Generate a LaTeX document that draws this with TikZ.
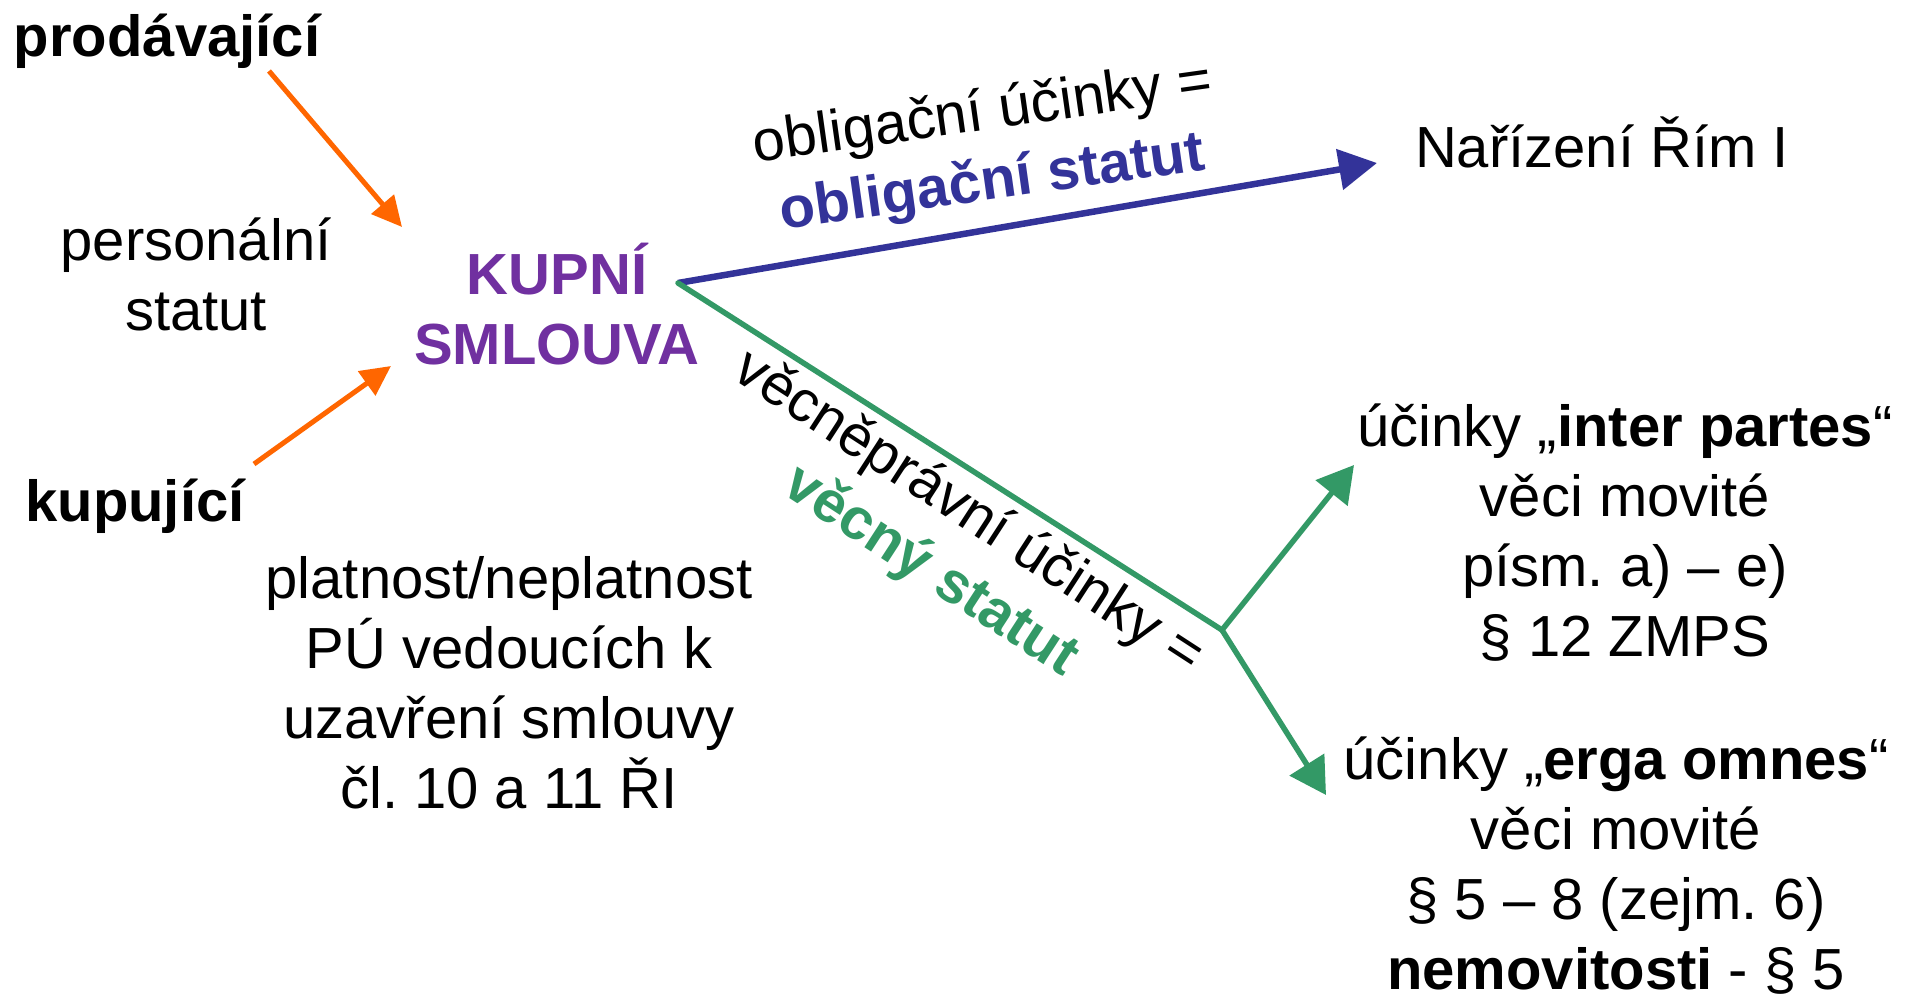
\documentclass[tikz,border=0pt]{standalone}
\usepackage{fontspec}
\setmainfont{Liberation Sans}
\usetikzlibrary{arrows.meta}
\definecolor{orng}{HTML}{FF6600}
\definecolor{purp}{HTML}{7030A0}
\definecolor{blu}{HTML}{333399}
\definecolor{grn}{HTML}{339966}
\frenchspacing
\begin{document}
\begin{tikzpicture}[x=1pt,y=-1pt,
  rt/.style={inner sep=0pt, align=center, anchor=base, font=\fontsize{58}{70}\selectfont},
  bt/.style={rt, font=\fontsize{58}{70}\selectfont\bfseries},
  orar/.style={draw=orng, line width=5pt, -{Triangle[length=30pt,width=29pt]}, orng},
  blar/.style={draw=blu, line width=6.5pt, -{Triangle[length=38pt,width=40pt]}, blu},
  grln/.style={draw=grn, line width=5.5pt, line cap=round},
  grar/.style={draw=grn, line width=5.5pt, -{Triangle[length=36pt,width=40pt]}, grn}]
\useasboundingbox (0,0) rectangle (1916,1001);
\fill[white] (0,0) rectangle (1916,1001);

\node[bt] (prod) at (167,56) {prodávající};
\node[rt] (pers) at (196,330) {personální\\statut};
\node[bt, text=purp] (kupni) at (557,364) {KUPNÍ\\SMLOUVA};
\node[bt] (kup) at (135,521) {kupující};
\node[rt] (nar) at (1602,167) {Nařízení Řím I};
\node[rt] (inter) at (1625,656) {účinky „\textbf{inter partes}“\\věci movité\\písm. a) – e)\\§ 12 ZMPS};
\node[rt] (erga) at (1616,989) {účinky „\textbf{erga omnes}“\\věci movité\\§ 5 – 8 (zejm. 6)\\\textbf{nemovitosti} - § 5};
\node[rt] (plat) at (509,808) {platnost/neplatnost\\PÚ vedoucích k\\uzavření smlouvy\\čl. 10 a 11 ŘI};

\node[rt, rotate=8] (oblab) at (994.7,199.3) {obligační účinky =\\\textcolor{blu}{\textbf{obligační statut}}};
\node[rt, rotate=-33] (veclab) at (922,585) {věcněprávní účinky =\\\textcolor{grn}{\textbf{věcný statut}}};

\coordinate (p1) at (269,71);
\coordinate (p2) at (402,227);
\coordinate (k1) at (254,464);
\coordinate (k2) at (391,366);
\coordinate (src) at (678,283);
\coordinate (ntip) at (1377,163);
\coordinate (junc) at (1222,630);
\coordinate (itip) at (1354,465);
\coordinate (etip) at (1326,795);

\draw[orar] (p1) -- (p2);
\draw[orar] (k1) -- (k2);
\draw[blar] (src) -- (ntip);
\draw[grln] (src) -- (junc);
\draw[grar] (junc) -- (itip);
\draw[grar] (junc) -- (etip);
\end{tikzpicture}
\end{document}
